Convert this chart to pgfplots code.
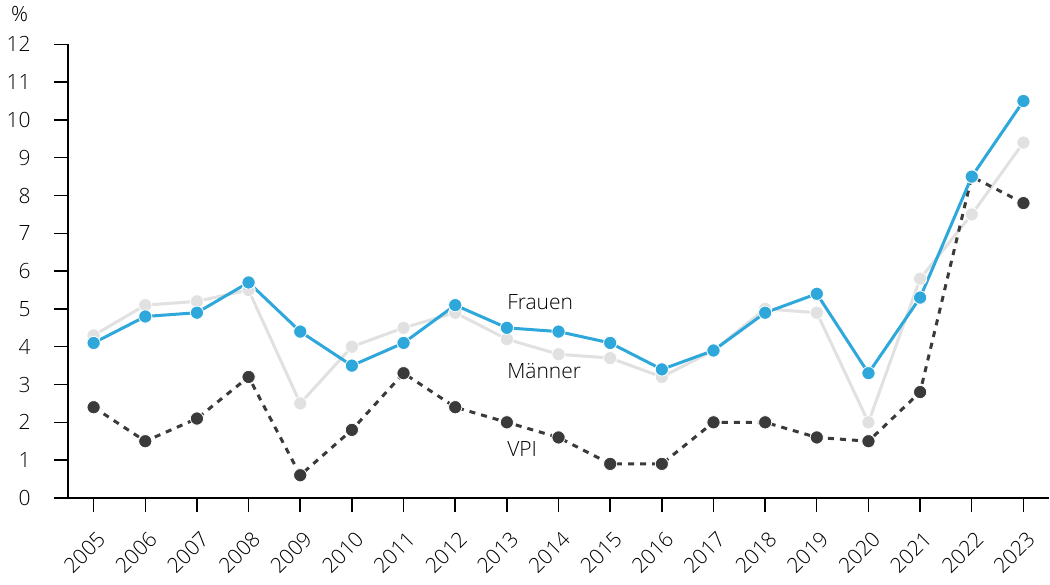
\documentclass[border=0pt]{standalone}
\usepackage{pgfplots}
\pgfplotsset{compat=1.18}
\usepackage{fontspec}
\setmainfont{Open Sans Light}
\definecolor{frau}{HTML}{2EA7DB}
\definecolor{mann}{HTML}{E1E1E1}
\definecolor{vpi}{HTML}{3A3A3A}
\definecolor{txt}{HTML}{000000}
\begin{document}
\begin{tikzpicture}
\begin{axis}[
  scale only axis,
  width=489bp, height=226bp,
  xmin=2004.5, xmax=2023.5,
  ymin=0, ymax=12,
  axis x line=bottom, axis y line=left,
  axis line style={-, line width=0.75bp, black},
  tick style={line width=0.75bp, black},
  tick align=outside,
  major tick length=7bp,
  xtick={2005,...,2023},
  ytick={0,...,12},
  /pgf/number format/assume math mode=true,
  /pgf/number format/1000 sep={},
  tick label style={font=\fontsize{10.5}{12}\selectfont, text=txt},
  yticklabel style={xshift=-8bp},
  xticklabel style={rotate=45, anchor=east, xshift=-2bp, yshift=-11bp},
  clip=false,
]
\addplot[mann, line width=1.5bp, mark=*, mark size=3.3bp, mark options={draw=white, line width=0.4bp, fill=mann}] coordinates {
(2005,4.3)(2006,5.1)(2007,5.2)(2008,5.5)(2009,2.5)(2010,4.0)(2011,4.5)(2012,4.9)(2013,4.2)(2014,3.8)
(2015,3.7)(2016,3.2)(2017,3.9)(2018,5.0)(2019,4.9)(2020,2.0)(2021,5.8)(2022,7.5)(2023,9.4)};
\addplot[vpi, line width=1.5bp, dash pattern=on 3bp off 3bp, mark=*, mark size=3.3bp, mark options={solid, draw=white, line width=0.4bp, fill=vpi}] coordinates {
(2005,2.4)(2006,1.5)(2007,2.1)(2008,3.2)(2009,0.6)(2010,1.8)(2011,3.3)(2012,2.4)(2013,2.0)(2014,1.6)
(2015,0.9)(2016,0.9)(2017,2.0)(2018,2.0)(2019,1.6)(2020,1.5)(2021,2.8)(2022,8.5)(2023,7.8)};
\addplot[frau, line width=1.5bp, mark=*, mark size=3.3bp, mark options={draw=white, line width=0.4bp, fill=frau}] coordinates {
(2005,4.1)(2006,4.8)(2007,4.9)(2008,5.7)(2009,4.4)(2010,3.5)(2011,4.1)(2012,5.1)(2013,4.5)(2014,4.4)
(2015,4.1)(2016,3.4)(2017,3.9)(2018,4.9)(2019,5.4)(2020,3.3)(2021,5.3)(2022,8.5)(2023,10.5)};
\node[anchor=west, inner sep=0pt, font=\fontsize{10.5}{12}\selectfont, text=txt] at (axis cs:2013,5.17) {Frauen};
\node[anchor=west, inner sep=0pt, font=\fontsize{10.5}{12}\selectfont, text=txt] at (axis cs:2013,3.36) {Männer};
\node[anchor=west, inner sep=0pt, font=\fontsize{10.5}{12}\selectfont, text=txt] at (axis cs:2013,1.30) {VPI};
\node[font=\fontsize{10.5}{12}\selectfont, text=txt] at (axis description cs:-0.049,1.066) {\%};
\end{axis}
\end{tikzpicture}
\end{document}
